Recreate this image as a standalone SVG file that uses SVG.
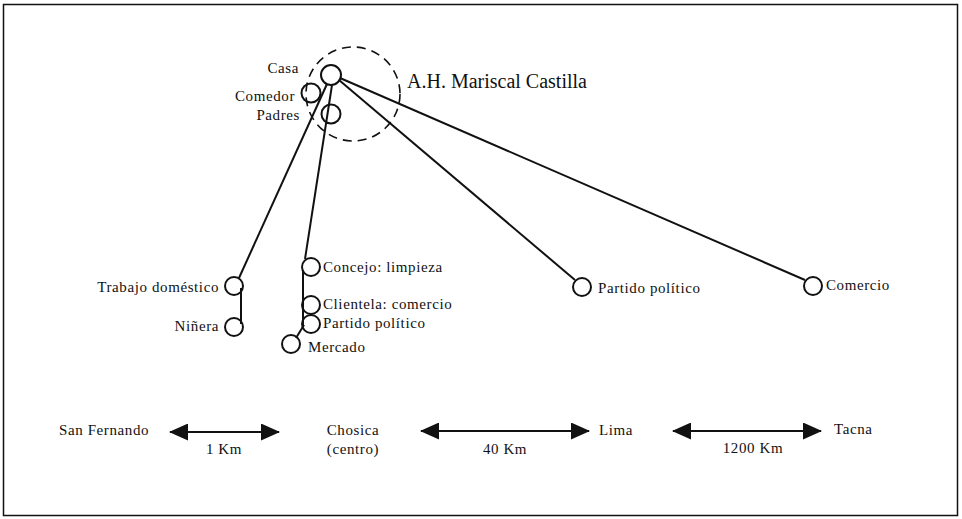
<svg xmlns="http://www.w3.org/2000/svg" width="962" height="519" viewBox="0 0 962 519">
<style>
text{font-family:"Liberation Serif","Times New Roman",serif;font-size:15px;fill:#111;letter-spacing:0.6px}
.n{fill:none;stroke:#111;stroke-width:2}
.l{stroke:#111;stroke-width:2;fill:none}
.e{text-anchor:end}
.m{text-anchor:middle}
</style>
<defs>
<marker id="ah" viewBox="0 0 19 17" refX="18" refY="8.5" markerWidth="19" markerHeight="17" markerUnits="userSpaceOnUse" orient="auto-start-reverse">
<path d="M0,0 L19,8.5 L0,17 Z" fill="#111"/>
</marker>
</defs>
<rect x="3.5" y="4.5" width="954" height="511" fill="#fff" stroke="#111" stroke-width="1.5"/>
<g id="connectors">
<line class="l" x1="327" y1="84" x2="239" y2="278"/>
<line class="l" x1="332" y1="85" x2="305" y2="259"/>
<line class="l" x1="339" y1="80" x2="575" y2="280"/>
<line class="l" x1="340" y1="78" x2="805" y2="280"/>
<line class="l" x1="241" y1="288" x2="241" y2="324"/>
<line class="l" x1="303" y1="270" x2="303" y2="325"/>
<line class="l" x1="304" y1="325" x2="296" y2="338"/>
<line class="l" x1="170" y1="432" x2="279" y2="432" marker-start="url(#ah)" marker-end="url(#ah)"/>
<line class="l" x1="421" y1="431" x2="589" y2="431" marker-start="url(#ah)" marker-end="url(#ah)"/>
<line class="l" x1="673" y1="431" x2="821" y2="431" marker-start="url(#ah)" marker-end="url(#ah)"/>
</g>
<g id="ah-zone">
<circle cx="353" cy="94" r="47" fill="none" stroke="#111" stroke-width="1.6" stroke-dasharray="9 6"/>
<text x="407" y="88" style="font-size:20px;letter-spacing:0">A.H. Mariscal Castilla</text>
</g>
<g id="casa"><circle class="n" cx="331" cy="75" r="10"/><text class="e" x="299" y="73">Casa</text></g>
<g id="comedor"><circle class="n" cx="311" cy="93" r="9.5"/><text class="e" x="295" y="101">Comedor</text></g>
<g id="padres"><circle class="n" cx="331" cy="114" r="9.5"/><text class="e" x="300" y="120">Padres</text></g>
<g id="trabajo"><circle class="n" cx="234" cy="286" r="9"/><text class="e" x="219" y="292">Trabajo doméstico</text></g>
<g id="ninera"><circle class="n" cx="234" cy="327" r="9"/><text class="e" x="219" y="331">Niñera</text></g>
<g id="concejo"><circle class="n" cx="311" cy="267" r="9"/><text x="323" y="272">Concejo: limpieza</text></g>
<g id="clientela"><circle class="n" cx="311" cy="305" r="9"/><text x="323" y="309">Clientela: comercio</text></g>
<g id="partido1"><circle class="n" cx="311" cy="324" r="9"/><text x="323" y="328">Partido político</text></g>
<g id="mercado"><circle class="n" cx="291" cy="344" r="9"/><text x="308" y="352">Mercado</text></g>
<g id="partido2"><circle class="n" cx="582" cy="287" r="9"/><text x="598" y="293">Partido político</text></g>
<g id="comercio"><circle class="n" cx="813" cy="286" r="9"/><text x="826" y="290">Comercio</text></g>
<g id="sanfernando"><text x="59" y="435">San Fernando</text></g>
<g id="d1"><text class="m" x="224" y="454">1 Km</text></g>
<g id="chosica"><text class="m" x="353" y="435">Chosica</text><text class="m" x="353" y="454">(centro)</text></g>
<g id="d2"><text class="m" x="505" y="454">40 Km</text></g>
<g id="lima"><text x="599" y="435">Lima</text></g>
<g id="d3"><text class="m" x="753" y="453">1200 Km</text></g>
<g id="tacna"><text x="834" y="434">Tacna</text></g>
</svg>
